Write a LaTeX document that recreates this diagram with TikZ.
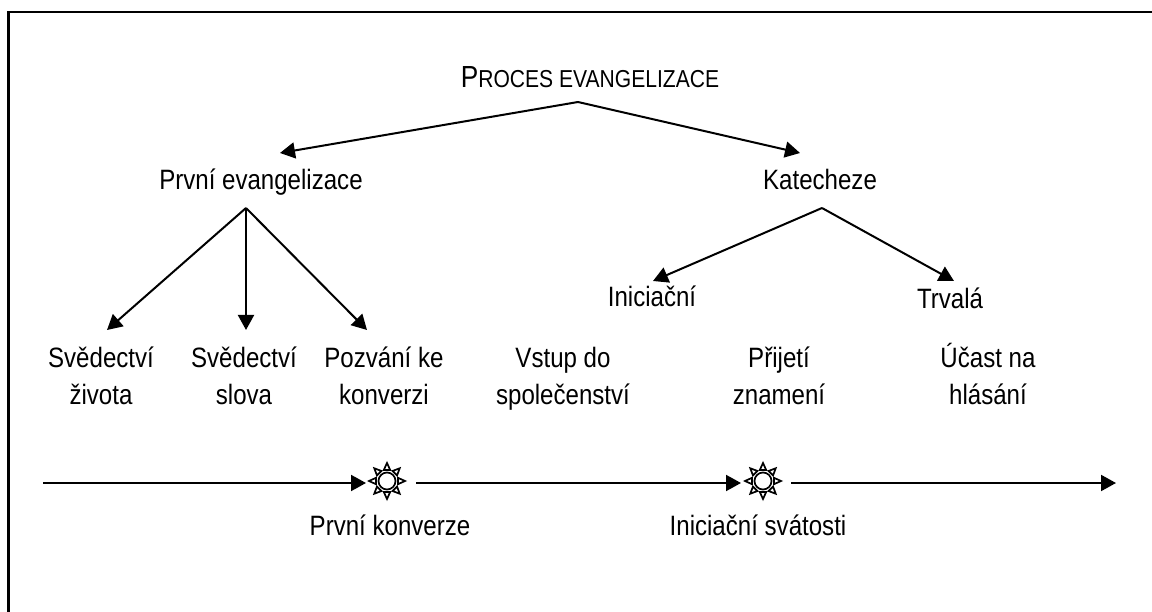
\documentclass[tikz,border=0pt]{standalone}
\usepackage{fontspec}
\setmainfont[FakeStretch=0.86]{Liberation Sans}
\usetikzlibrary{arrows.meta}
\tikzset{
  lbl/.style={inner sep=0pt,outer sep=0pt,anchor=base,align=center,font=\fontsize{28}{37}\selectfont},
  conn/.style={line width=2pt,-{Triangle[length=15pt,width=16pt]}},
  ray/.style={line width=1.7pt,draw=black,fill=white,line join=miter},
}
\newcommand{\sunshape}[1]{%
  \foreach \a in {0,45,...,315}{
    \draw[ray,shift={(#1)},rotate=\a] (11,-3.2) -- (18,0) -- (11,3.2) -- cycle;
  }
  \node[draw=black,line width=1.7pt,fill=white,circle,minimum size=17pt,inner sep=0pt] at (#1) {};
}
\begin{document}
\begin{tikzpicture}[x=1pt,y=-1pt]
\useasboundingbox (0,0) rectangle (1152,612);
\draw[line width=2.3pt] (8.5,612) -- (8.5,12.2) -- (1152,12.2);
\coordinate (titleapex) at (578,102);
\coordinate (pa) at (246,208);
\coordinate (ka) at (822,208);
\node[lbl] (title) at (590,88) {\fontsize{30.5}{30}\selectfont P\fontsize{24.5}{30}\selectfont ROCES EVANGELIZACE};
\node[lbl] (prvni) at (261,190) {První evangelizace};
\node[lbl] (kat) at (820,190) {Katecheze};
\node[lbl] (ini) at (652,307) {Iniciační};
\node[lbl] (trv) at (950,309) {Trvalá};
\node[lbl] (s1) at (101,405) {Svědectví\\života};
\node[lbl] (s2) at (244,405) {Svědectví\\slova};
\node[lbl] (s3) at (384,405) {Pozvání ke\\konverzi};
\node[lbl] (v1) at (563,405) {Vstup do\\společenství};
\node[lbl] (v2) at (779,405) {Přijetí\\znamení};
\node[lbl] (v3) at (988,405) {Účast na\\hlásání};
\node[lbl] (k1) at (390,535) {První konverze};
\node[lbl] (k2) at (758,535) {Iniciační svátosti};
\coordinate (t1) at (280,153);
\coordinate (t2) at (800,153);
\coordinate (a1) at (107,330);
\coordinate (a2) at (246,330);
\coordinate (a3) at (367,330);
\coordinate (i1) at (653,281);
\coordinate (i2) at (954,281);
\draw[conn] (titleapex) -- (t1);
\draw[conn] (titleapex) -- (t2);
\draw[conn] (pa) -- (a1);
\draw[conn] (pa) -- (a2);
\draw[conn] (pa) -- (a3);
\draw[conn] (ka) -- (i1);
\draw[conn] (ka) -- (i2);
\coordinate (l0) at (43,483);
\coordinate (l1) at (366,483);
\coordinate (l2) at (416,483);
\coordinate (l3) at (741,483);
\coordinate (l4) at (791,483);
\coordinate (l5) at (1116,483);
\draw[conn] (l0) -- (l1);
\draw[conn] (l2) -- (l3);
\draw[conn] (l4) -- (l5);
\sunshape{387,481}
\sunshape{763,481}
\end{tikzpicture}
\end{document}
